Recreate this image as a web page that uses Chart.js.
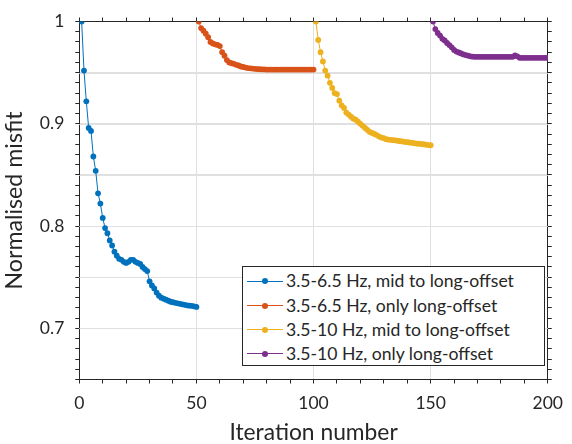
<!DOCTYPE html>
<html>
<head>
<meta charset="utf-8">
<script src="https://cdn.jsdelivr.net/npm/chart.js@4.4.1/dist/chart.umd.min.js"></script>
<style>
  html, body { margin: 0; padding: 0; background: #ffffff; }
  #wrap { position: relative; width: 572px; height: 444px; }
  #chart { position: absolute; left: 0; top: 0; }
  #legend { position: absolute; left: 242px; top: 266px; width: 303px; height: 100px;
            box-sizing: border-box; border: 1px solid #262626; background: #ffffff;
            font-family: Lato, sans-serif; font-size: 17.6px; color: #262626; }
  .row { position: absolute; left: 0; height: 24px; width: 300px; }
  .sample { position: absolute; left: 4px; top: 11.5px; width: 36px; height: 1px; }
  .dot { position: absolute; left: 15px; top: -2.5px; width: 6px; height: 6px; border-radius: 50%; }
  .txt { position: absolute; left: 43px; top: 0; line-height: 24px; white-space: nowrap; }
</style>
</head>
<body>
<div id="wrap">
  <canvas id="chart" width="572" height="444"></canvas>
  <div id="legend"></div>
</div>
<script>
// ---- data ----
const seriesLabels = [
  '3.5-6.5 Hz, mid to long-offset',
  '3.5-6.5 Hz, only long-offset',
  '3.5-10 Hz, mid to long-offset',
  '3.5-10 Hz, only long-offset'
];
const seriesColors = ['#0072BD', '#D95319', '#EDB120', '#7E2F8E'];
const iterStart = [1, 51, 101, 151];

const misfitMidLow = [
  1.000, 0.952, 0.922, 0.896, 0.893, 0.868, 0.854, 0.832, 0.822, 0.808,
  0.798, 0.793, 0.786, 0.781, 0.775, 0.771, 0.768, 0.767, 0.765, 0.764,
  0.765, 0.767, 0.767, 0.765, 0.764, 0.763, 0.760, 0.758, 0.756, 0.746,
  0.742, 0.739, 0.735, 0.732, 0.730, 0.729, 0.728, 0.727, 0.726, 0.7255,
  0.725, 0.7245, 0.724, 0.7235, 0.723, 0.7225, 0.7222, 0.722, 0.7215, 0.721
];
const misfitLongLow = [
  1.000, 0.9936, 0.991, 0.988, 0.9847, 0.980, 0.9786, 0.9777, 0.9771, 0.976,
  0.970, 0.9665, 0.9623, 0.960, 0.9592, 0.9586, 0.9576, 0.957, 0.956, 0.9555,
  0.955, 0.9545, 0.9542, 0.954, 0.9537, 0.9535, 0.9533, 0.9532, 0.9531, 0.953,
  0.953, 0.953, 0.953, 0.953, 0.953, 0.953, 0.953, 0.953, 0.953, 0.953,
  0.953, 0.953, 0.953, 0.953, 0.953, 0.953, 0.953, 0.953, 0.953, 0.953
];
const misfitMidHigh = [
  1.000, 0.982, 0.970, 0.961, 0.952, 0.947, 0.940, 0.935, 0.930, 0.929,
  0.9226, 0.918, 0.9155, 0.911, 0.909, 0.907, 0.905, 0.904, 0.902, 0.900,
  0.898, 0.896, 0.894, 0.892, 0.891, 0.890, 0.889, 0.8875, 0.8865, 0.886,
  0.885, 0.8845, 0.8843, 0.884, 0.8837, 0.8834, 0.883, 0.8827, 0.8824, 0.882,
  0.8817, 0.8814, 0.881, 0.8807, 0.8805, 0.8802, 0.880, 0.8796, 0.8792, 0.879
];
const misfitLongHigh = [
  1.000, 0.9926, 0.9888, 0.9862, 0.9831, 0.9815, 0.979, 0.977, 0.9748, 0.9722,
  0.9706, 0.9697, 0.9688, 0.9678, 0.9672, 0.9666, 0.966, 0.9656, 0.9655, 0.9655,
  0.9655, 0.9655, 0.9655, 0.9655, 0.9655, 0.9655, 0.9655, 0.9655, 0.9655, 0.9655,
  0.9655, 0.9655, 0.9655, 0.9655, 0.9655, 0.9668, 0.966, 0.9645, 0.9645, 0.9645,
  0.9645, 0.9645, 0.9645, 0.9645, 0.9645, 0.9645, 0.9645, 0.9645, 0.9645, 0.9645
];
const seriesValues = [misfitMidLow, misfitLongLow, misfitMidHigh, misfitLongHigh];

const xTickLabels = [0, 50, 100, 150, 200];
const yTickLabels = [0.7, 0.8, 0.9, 1];
const yGridStep = 0.05;
const xGridStep = 50;

// ---- styling ----
const FONT = 'Lato, sans-serif';
const INK = '#262626';
const GRID = '#e0e0e0';
const CLEAR = 'rgba(255,255,255,0)';
const near = (a, b) => Math.abs(a - b) < 1e-6;
const isMultiple = (v, s) => Math.abs(Math.round(v * 1000) % Math.round(s * 1000)) === 0;

const datasets = seriesValues.map((vals, k) => ({
  label: seriesLabels[k],
  data: vals.map((v, i) => ({ x: iterStart[k] + i, y: v })),
  borderColor: seriesColors[k],
  backgroundColor: seriesColors[k],
  pointBackgroundColor: seriesColors[k],
  borderWidth: 1,
  pointRadius: 2.9,
  pointBorderWidth: 0,
  pointHoverRadius: 2.9,
  tension: 0,
  fill: false
}));

const minorTickAxis = (pos, min, max, step) => ({
  type: 'linear', position: pos, min: min, max: max,
  ticks: { display: false, stepSize: step, autoSkip: false },
  grid: { drawOnChartArea: false, drawTicks: true, tickLength: 4, tickColor: INK, color: INK },
  border: { display: true, color: INK, width: 1 },
  afterFit: s => { if (pos === 'top') s.height = 0; else s.width = 0; }
});

const gridColorFor = step => c => {
  const v = (c && c.tick) ? c.tick.value : NaN;
  return isFinite(v) && isMultiple(v, step) ? GRID : CLEAR;
};

// horizontal grid lines at the y-scale's ticks that fall on the 0.05 grid step
const yGridPlugin = {
  id: 'yGridLines',
  beforeDatasetsDraw(chart) {
    const ys = chart.scales.y, a = chart.chartArea, ctx = chart.ctx;
    ctx.save();
    ctx.strokeStyle = GRID;
    ctx.lineWidth = 1;
    ys.ticks.forEach(t => {
      if (!isMultiple(t.value, yGridStep) || near(t.value, ys.min) || near(t.value, ys.max)) return;
      const p = Math.round(ys.getPixelForValue(t.value)) + 0.5;
      ctx.beginPath();
      ctx.moveTo(a.left, p);
      ctx.lineTo(a.right, p);
      ctx.stroke();
    });
    ctx.restore();
  }
};

new Chart(document.getElementById('chart'), {
  type: 'line',
  data: { datasets: datasets },
  plugins: [yGridPlugin],
  options: {
    responsive: false,
    animation: false,
    events: [],
    layout: { padding: { left: 0, right: 14.7, top: 13.3, bottom: 0 } },
    plugins: { legend: { display: false }, tooltip: { enabled: false } },
    scales: {
      x: {
        type: 'linear', position: 'bottom', min: 0, max: 200,
        ticks: {
          stepSize: 10, autoSkip: false, maxRotation: 0, padding: 9, color: INK,
          font: { family: FONT, size: 17.5 },
          callback: v => xTickLabels.some(t => near(t, v)) ? String(v) : ''
        },
        grid: { color: gridColorFor(xGridStep), tickColor: INK, tickLength: 4, lineWidth: 1 },
        border: { color: INK, width: 1 },
        title: { display: true, text: 'Iteration number', color: INK,
                 font: { family: FONT, size: 22.8, lineHeight: 1 }, padding: 0 },
        afterFit: s => { s.height = 64.5; }
      },
      y: {
        type: 'linear', position: 'left', min: 0.65, max: 1,
        ticks: {
          stepSize: 0.01, autoSkip: false, padding: 11, color: INK,
          font: { family: FONT, size: 17.5 },
          callback: v => yTickLabels.some(t => near(t, v)) ? String(+v.toFixed(2)) : ''
        },
        grid: { color: gridColorFor(yGridStep), tickColor: INK, tickLength: 4, lineWidth: 1 },
        border: { color: INK, width: 1 },
        title: { display: true, text: 'Normalised misfit', color: INK,
                 font: { family: FONT, size: 23.2, lineHeight: 1 }, padding: { top: 3, bottom: 0 } },
        afterFit: s => { s.width = 79.3; }
      },
      xTop: minorTickAxis('top', 0, 200, 10),
      yRight: minorTickAxis('right', 0.65, 1, 0.01)
    }
  }
});

// ---- legend (HTML, built from the datasets) ----
const legend = document.getElementById('legend');
const rowCenters = [14.3, 38.5, 62.7, 86.9];
seriesLabels.forEach((lab, k) => {
  const row = document.createElement('div');
  row.className = 'row';
  row.style.top = (rowCenters[k] - 12) + 'px';
  const sample = document.createElement('div');
  sample.className = 'sample';
  sample.style.background = seriesColors[k];
  const dot = document.createElement('div');
  dot.className = 'dot';
  dot.style.background = seriesColors[k];
  sample.appendChild(dot);
  const txt = document.createElement('div');
  txt.className = 'txt';
  txt.textContent = lab;
  row.appendChild(sample);
  row.appendChild(txt);
  legend.appendChild(row);
});
</script>
</body>
</html>
